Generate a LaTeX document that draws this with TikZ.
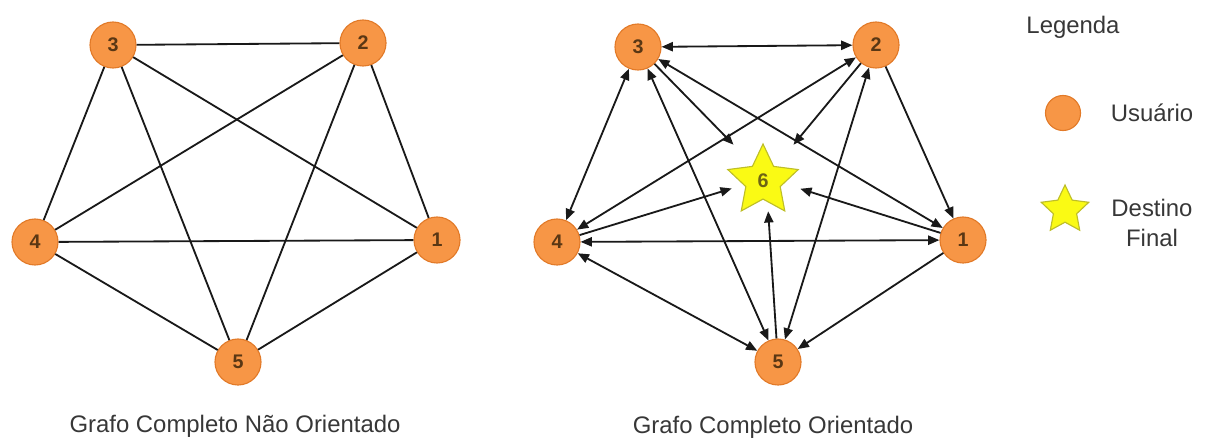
\documentclass[tikz,border=0pt]{standalone}
\usepackage{fontspec}
\setmainfont{Liberation Sans}
\usetikzlibrary{arrows.meta,shapes.geometric}
\definecolor{laranja}{RGB}{247,150,70}
\definecolor{laranjaborda}{RGB}{226,122,40}
\definecolor{numero}{RGB}{90,55,20}
\definecolor{amarelo}{RGB}{250,250,20}
\definecolor{amareloborda}{RGB}{190,190,40}
\definecolor{texto}{RGB}{55,55,55}

\begin{document}
\begin{tikzpicture}[x=0.025cm,y=-0.025cm]
% size of each user node
\def\sz{1.15cm}
% node style definition
\tikzstyle{usuario} = [
	circle, draw=laranjaborda, fill=laranja, line width=0.8pt,
	minimum size=\sz, inner sep=0pt, text=numero,
	font=\bfseries\fontsize{14}{14}\selectfont ];
\tikzstyle{estrela} = [
	star, star points=5, star point ratio=2.05, draw=amareloborda,
	fill=amarelo, line width=0.8pt, minimum size=1.85cm, inner sep=0pt,
	text={rgb,255:red,110;green,100;blue,20},
	font=\bfseries\fontsize{14}{14}\selectfont ];
\tikzstyle{alvo} = [rectangle, draw=none, minimum width=1.7cm, minimum height=1.65cm];
\tikzstyle{plain} = [draw=none, fill=none, text=texto, font=\fontsize{17}{21}\selectfont];
\tikzstyle{aresta} = [line width=1.3pt, black!90];
\tikzstyle{seta} = [aresta, -{Triangle[length=8pt,width=6.5pt]}];
\tikzstyle{dupla} = [aresta, {Triangle[length=8pt,width=6.5pt]}-{Triangle[length=8pt,width=6.5pt]}];

\useasboundingbox (0,0) rectangle (1209,447);

% complete graph, no orientation
\node[usuario] (l1) at (437,240) {1};
\node[usuario] (l2) at (363,43) {2};
\node[usuario] (l3) at (113,45) {3};
\node[usuario] (l4) at (35,242) {4};
\node[usuario] (l5) at (238,362) {5};
\foreach \a/\b in {1/2,1/3,1/4,1/5,2/3,2/4,2/5,3/4,3/5,4/5}
	\draw[aresta] (l\a) -- (l\b);
\node[plain] at (235,426) {Grafo Completo Não Orientado};

% oriented graph with the final destination
\node[usuario] (r1) at (963,240) {1};
\node[usuario] (r2) at (876,45) {2};
\node[usuario] (r3) at (638,47) {3};
\node[usuario] (r4) at (557,242) {4};
\node[usuario] (r5) at (778,362) {5};
\node[alvo] (r6) at (766,178) {};
\node[estrela] at (763,181) {6};
\foreach \a/\b in {2/3,3/4,1/3,3/5,1/4,2/4,2/5,4/5}
	\draw[dupla] (r\a) -- (r\b);
\foreach \a/\b in {2/1,1/5,1/6,2/6,3/6,4/6,5/6}
	\draw[seta] (r\a) -- (r\b);
\node[plain] at (773,427) {Grafo Completo Orientado};

% legend
\node[plain] (leg) at (1073,27) {Legenda};
\node[usuario, minimum size=0.875cm] (lu) at (1063,113) {};
\node[plain] (tu) at (1152,113) {Usuário};
\node[estrela, minimum size=1.25cm] (le) at (1065,210) {};
\node[plain, align=center] (te) at (1152,223) {Destino\\Final};

\end{tikzpicture}
\end{document}
